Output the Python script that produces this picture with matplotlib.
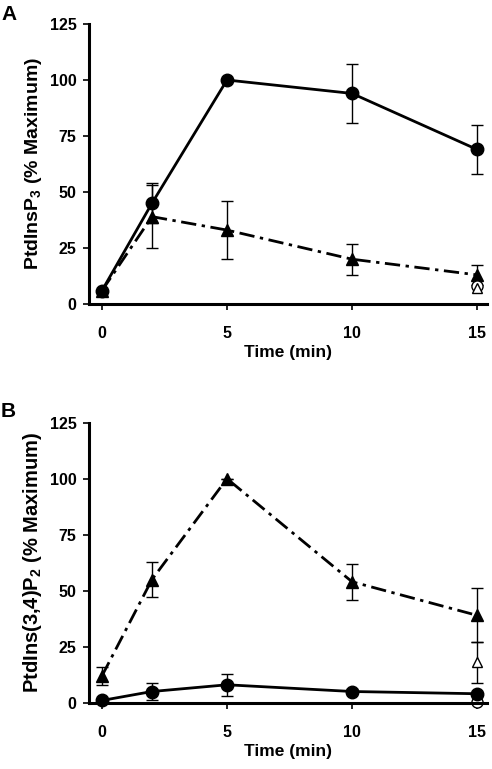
import numpy as np
import matplotlib
matplotlib.use('Agg')
import matplotlib.pyplot as plt

plt.rcParams['font.family'] = 'Liberation Sans'
plt.rcParams['font.weight'] = 'bold'
plt.rcParams['mathtext.fontset'] = 'custom'
plt.rcParams['mathtext.rm'] = 'Liberation Sans:bold'
plt.rcParams['mathtext.default'] = 'rm'

# ====== data ======
time = [0, 2, 5, 10, 15]

# Panel A: PtdInsP3
a_circle = [6, 45, 100, 94, 69]
a_circle_err = [0, 9, 0, 13, 11]
a_tri = [6, 39, 33, 20, 13]
a_tri_err = [0, 14, 13, 7, 4.5]
a_open_circle = 8
a_open_tri = 7

# Panel B: PtdIns(3,4)P2
b_circle = [1, 5, 8, 5, 4]
b_circle_err = [0, 4, 5, 1, 1]
b_tri = [12, 55, 100, 54, 39]
b_tri_err = [4, 8, 0, 8, 12]
b_open_circle = 0.3
b_open_tri = 18
b_open_tri_err = 9

xticks = [0, 5, 10, 15]
yticks = [0, 25, 50, 75, 100, 125]

fig = plt.figure(figsize=(4.92, 7.69), dpi=100)
W, H = 492, 769


def make_ax(top_px):
    ax = fig.add_axes([89 / W, 1 - (top_px + 280) / H, 398 / W, 280 / H])
    ax.set_xlim(-0.52, 15.4)
    ax.set_ylim(0, 125)
    ax.set_xticks(xticks)
    ax.set_yticks(yticks)
    for s in ['top', 'right']:
        ax.spines[s].set_visible(False)
    for s in ['left', 'bottom']:
        ax.spines[s].set_linewidth(2.2)
    ax.tick_params(axis='both', direction='out', width=1.2, length=4,
                   labelsize=11.5)
    ax.tick_params(axis='x', pad=12)
    ax.tick_params(axis='y', pad=5)
    for lab in ax.get_xticklabels() + ax.get_yticklabels():
        lab.set_fontweight('bold')
    ax.set_xlabel('Time (min)', fontsize=12.5, fontweight='bold', labelpad=3)
    return ax


def draw(ax, circ, circ_err, tri, tri_err):
    ax.errorbar(time, tri, yerr=tri_err, color='black', marker='^',
                markersize=8, linewidth=2, dashes=(5.5, 2, 1.2, 2),
                elinewidth=1, capsize=4, capthick=1, clip_on=False, zorder=3)
    ax.errorbar(time, circ, yerr=circ_err, color='black', marker='o',
                markersize=9, linewidth=2, linestyle='-',
                elinewidth=1, capsize=4, capthick=1, clip_on=False, zorder=4)


# Panel A
axA = make_ax(24)
draw(axA, a_circle, a_circle_err, a_tri, a_tri_err)
axA.plot([15], [a_open_circle], 'o', mfc='white', mec='black', ms=8, mew=1, clip_on=False, zorder=5)
axA.plot([15], [a_open_tri], '^', mfc='white', mec='black', ms=7, mew=1, clip_on=False, zorder=5)
axA.set_ylabel('PtdInsP$_3$ (% Maximum)', fontsize=14, fontweight='bold')
axA.yaxis.set_label_coords(-0.113, 0.5)

# Panel B
axB = make_ax(422.7)
draw(axB, b_circle, b_circle_err, b_tri, b_tri_err)
axB.errorbar([15], [b_open_tri], yerr=b_open_tri_err, fmt='^', mfc='white', mec='black',
             ms=7, mew=1, ecolor='black', elinewidth=1, capsize=4, capthick=1,
             clip_on=False, zorder=5)
axB.plot([15], [b_open_circle], 'o', mfc='white', mec='black', ms=8, mew=1, clip_on=False, zorder=2)
axB.set_ylabel('PtdIns(3,4)P$_2$ (% Maximum)', fontsize=14.5, fontweight='bold')
axB.yaxis.set_label_coords(-0.113, 0.5)

fig.text(1 / W, 1 - 5 / H, 'A', fontsize=15, fontweight='bold', va='top', ha='left')
fig.text(1 / W, 1 - 402 / H, 'B', fontsize=15, fontweight='bold', va='top', ha='left')

plt.savefig('out.png', dpi=100)
plt.close()
